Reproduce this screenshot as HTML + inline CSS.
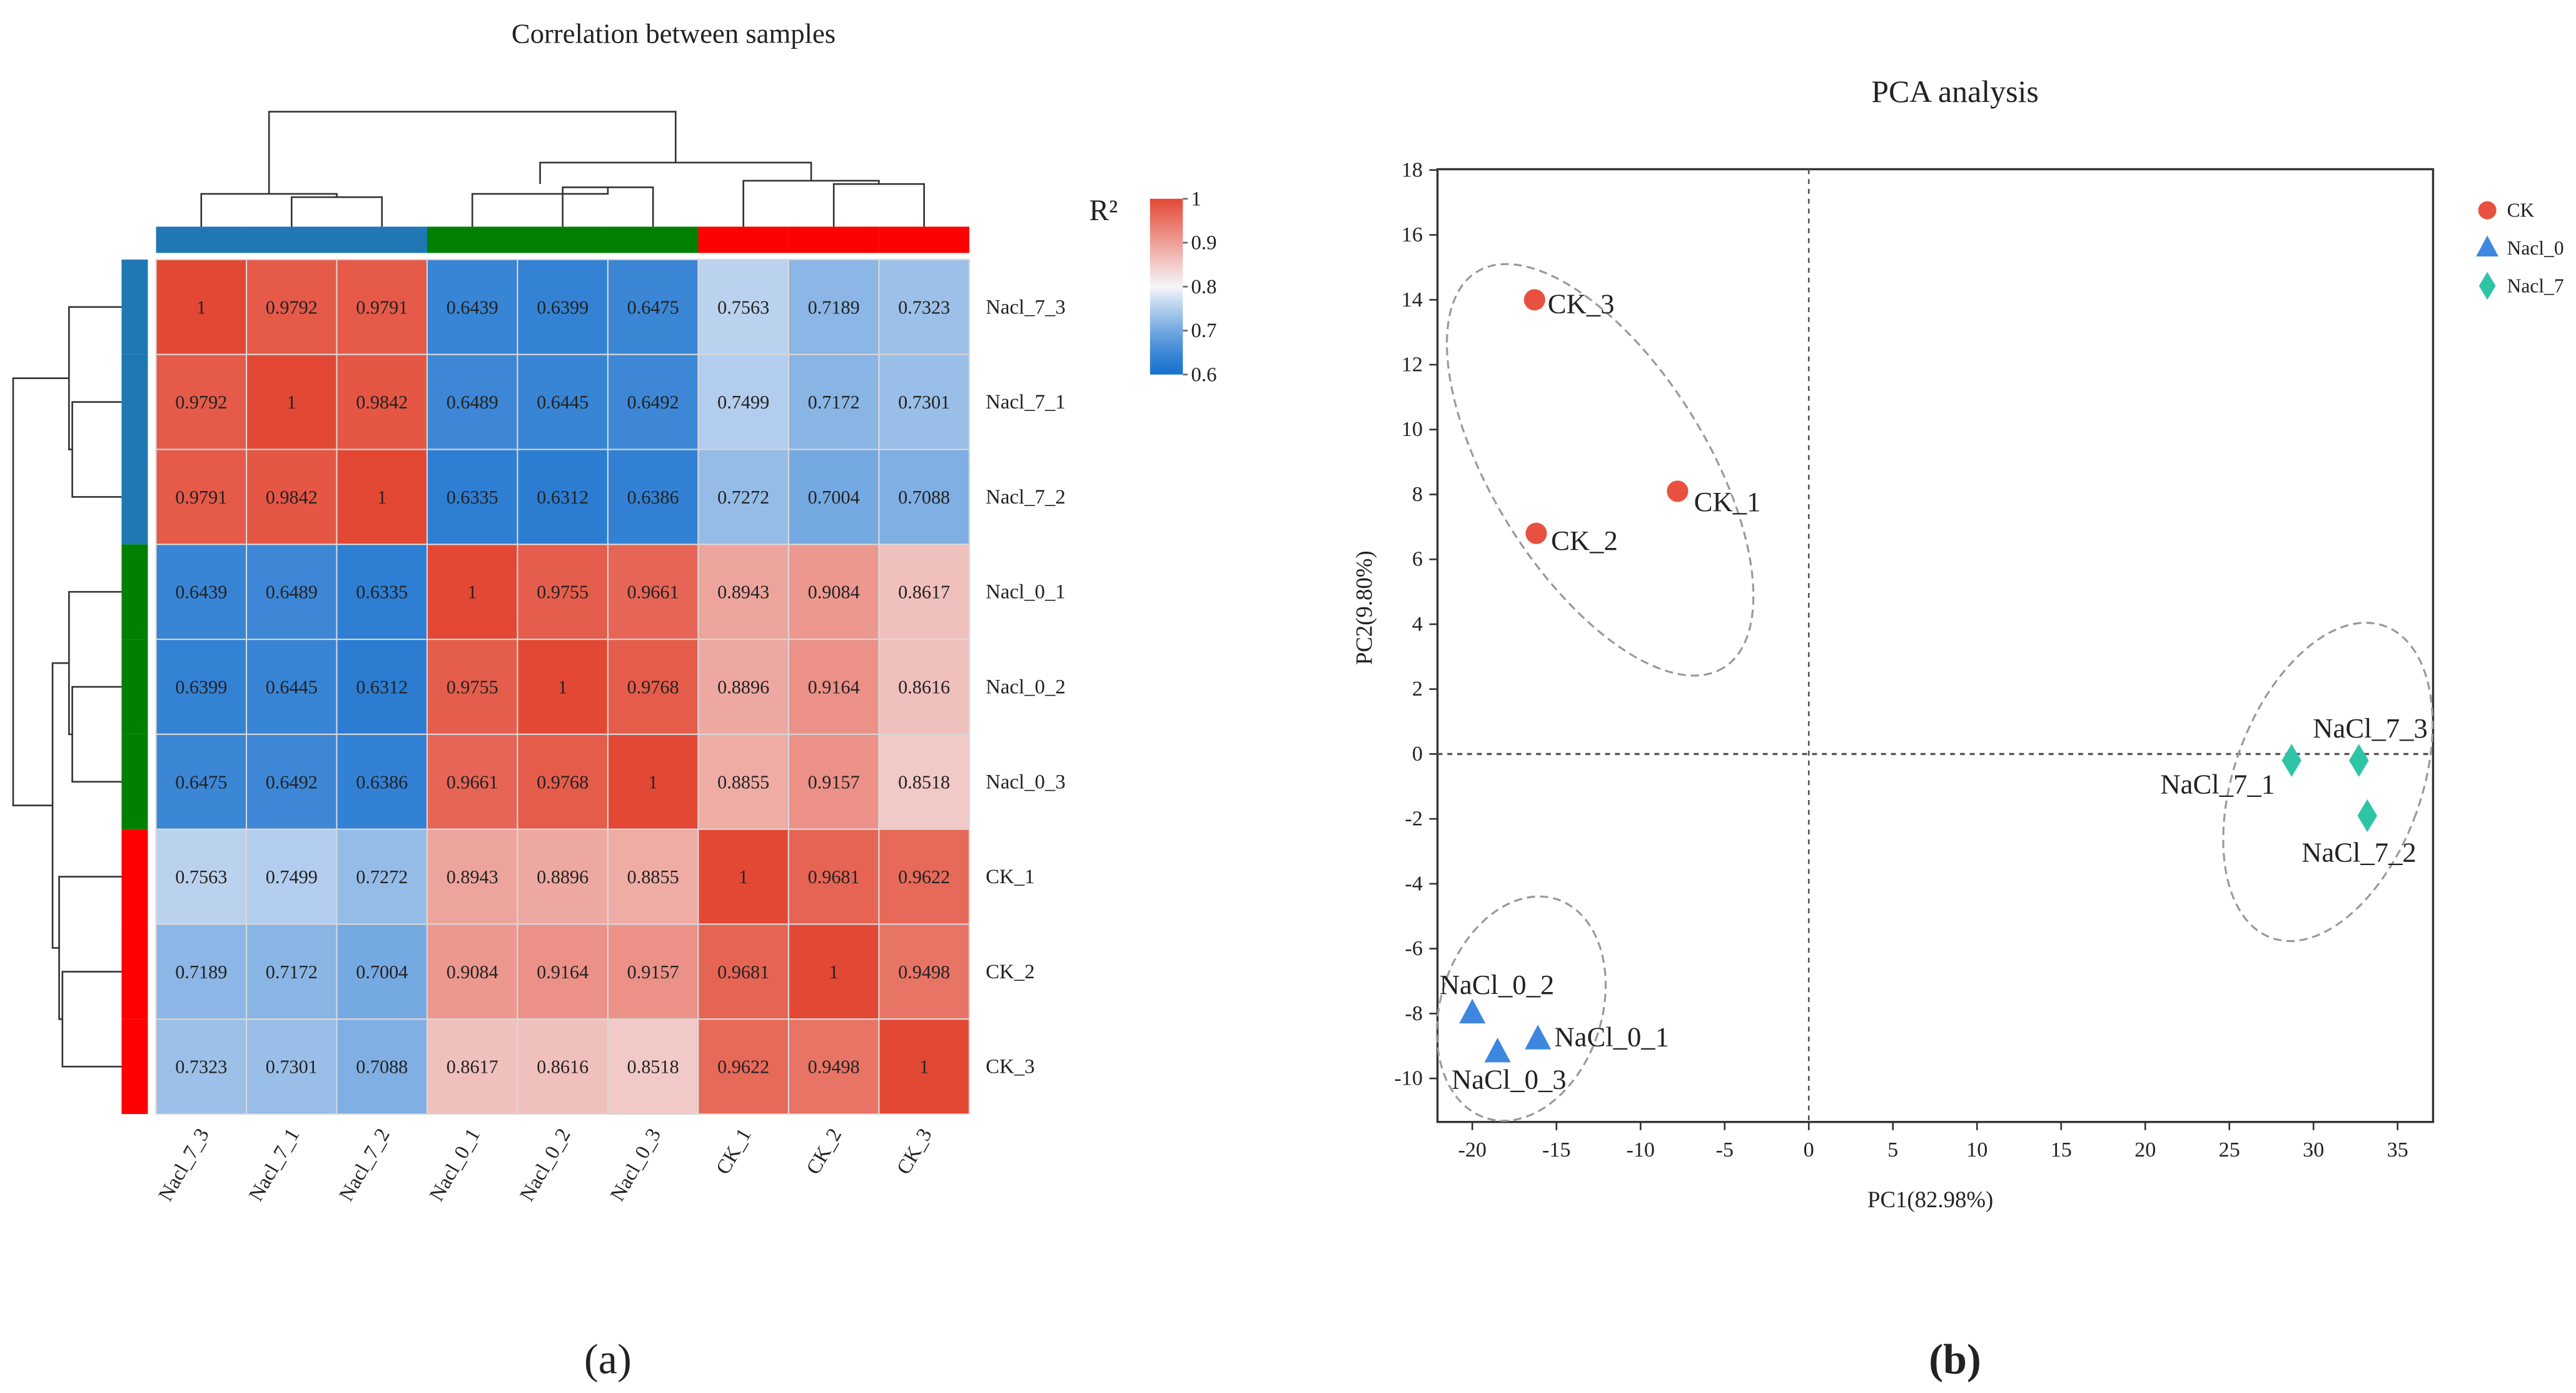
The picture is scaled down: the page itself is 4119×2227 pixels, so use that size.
<!DOCTYPE html>
<html><head><meta charset="utf-8"><style>
html,body{margin:0;padding:0;background:#fff}
svg{display:block}
text{font-family:"Liberation Serif",serif;fill:#222}
</style></head><body>
<svg id="fig" width="4119" height="2227" viewBox="0 0 1568 848" preserveAspectRatio="none" xmlns="http://www.w3.org/2000/svg">
<rect width="1568" height="848" fill="#fff"/>
<g id="heat"></g>
<g id="pca"></g>
</svg>
<script>
const samples=["Nacl_7_3","Nacl_7_1","Nacl_7_2","Nacl_0_1","Nacl_0_2","Nacl_0_3","CK_1","CK_2","CK_3"];
const groupColors=["#1f77b4","#1f77b4","#1f77b4","#008000","#008000","#008000","#ff0000","#ff0000","#ff0000"];
const corr=[
[1,0.9792,0.9791,0.6439,0.6399,0.6475,0.7563,0.7189,0.7323],
[0.9792,1,0.9842,0.6489,0.6445,0.6492,0.7499,0.7172,0.7301],
[0.9791,0.9842,1,0.6335,0.6312,0.6386,0.7272,0.7004,0.7088],
[0.6439,0.6489,0.6335,1,0.9755,0.9661,0.8943,0.9084,0.8617],
[0.6399,0.6445,0.6312,0.9755,1,0.9768,0.8896,0.9164,0.8616],
[0.6475,0.6492,0.6386,0.9661,0.9768,1,0.8855,0.9157,0.8518],
[0.7563,0.7499,0.7272,0.8943,0.8896,0.8855,1,0.9681,0.9622],
[0.7189,0.7172,0.7004,0.9084,0.9164,0.9157,0.9681,1,0.9498],
[0.7323,0.7301,0.7088,0.8617,0.8616,0.8518,0.9622,0.9498,1]];
const cbTicks=[1,0.9,0.8,0.7,0.6];
const pcaLabels=["CK_3","CK_1","CK_2","NaCl_0_2","NaCl_0_3","NaCl_0_1","NaCl_7_1","NaCl_7_3","NaCl_7_2"];
const pcaGroup=[0,0,0,1,1,1,2,2,2];
const pc1=[-16.3,-7.8,-16.2,-20,-18.5,-16.1,28.7,32.7,33.2];
const pc2=[14,8.1,6.8,-8,-9.2,-8.8,-0.2,-0.2,-1.9];
const xTicks=[-20,-15,-10,-5,0,5,10,15,20,25,30,35];
const yTicks=[18,16,14,12,10,8,6,4,2,0,-2,-4,-6,-8,-10];
const legendNames=["CK","Nacl_0","Nacl_7"];
const NS="http://www.w3.org/2000/svg";
function mk(p,tag,at,txt){const e=document.createElementNS(NS,tag);for(const k in at)e.setAttribute(k,at[k]);if(txt!==undefined)e.textContent=txt;p.appendChild(e);return e;}
function lerp(a,b,t){return a.map((v,i)=>Math.round(v+(b[i]-v)*t));}
function col(v){const B=[22,112,206],W=[246,246,250],R=[227,72,52];let c;if(v<0.8){const t=Math.max(0,(v-0.6)/0.2);c=lerp(B,W,Math.pow(t,1.25));}else c=lerp(W,R,Math.min(1,(v-0.8)/0.2));return `rgb(${c})`;}
const H=document.getElementById('heat');
const X0=95,Y0=158,CW=55,CH=57.8,N=samples.length;
const cx=i=>X0+CW*(i+0.5), cy=i=>Y0+CH*(i+0.5);
let t=mk(H,'text',{x:410,y:26,'text-anchor':'middle','font-size':17},'Correlation between samples');

for(let r=0;r<N;r++)for(let c=0;c<N;c++){
 const e=mk(H,'rect',{x:X0+c*CW,y:Y0+r*CH,width:CW,height:CH,fill:col(corr[r][c]),stroke:'#d8d8d8','stroke-width':0.8});
 
 const tx=mk(H,'text',{x:cx(c),y:cy(r)+4,'text-anchor':'middle','font-size':11.5},String(corr[r][c]));
 
}
for(let i=0;i<N;i++){
 const a=mk(H,'rect',{x:X0+i*CW,y:138,width:CW,height:16,fill:groupColors[i]});
 
 const b=mk(H,'rect',{x:74,y:Y0+i*CH,width:16,height:CH,fill:groupColors[i]});
 
 const rl=mk(H,'text',{x:600,y:cy(i)+4,'font-size':12.5},samples[i]);
 
 const cl=mk(H,'text',{x:cx(i)+5,y:690,'text-anchor':'end','font-size':12.5,transform:`rotate(-60 ${cx(i)+5} 690)`},samples[i]);
 
}
const dT=[[cx(0),cx(1),cx(2),118,120,118],[cx(3),cx(4),cx(5),112,114,118],[cx(6),cx(7),cx(8),110,112,110]];
let dp="";
dT.forEach(([a,b,c,h1,h2,h0])=>{const m=(b+c)/2;dp+=`M${b},138V${h2}H${c}V138M${a},138V${h0}H${m}V${h2}`;});
const gm=[(cx(0)+(cx(1)+cx(2))/2)/2,(cx(3)+(cx(4)+cx(5))/2)/2,(cx(6)+(cx(7)+cx(8))/2)/2];
dp+=`M${gm[1]},112V99H${gm[2]}V110M${gm[0]},118V68H${(gm[1]+gm[2])/2}V99`;
const dL=[[cy(0),cy(1),cy(2),42,44,42],[cy(3),cy(4),cy(5),42,44,42],[cy(6),cy(7),cy(8),36,38,36]];
dL.forEach(([a,b,c,h1,h2,h0])=>{const m=(b+c)/2;dp+=`M74,${b}H${h2}V${c}H74M74,${a}H${h0}V${m}H${h2}`;});
const lm=[(cy(0)+(cy(1)+cy(2))/2)/2,(cy(3)+(cy(4)+cy(5))/2)/2,(cy(6)+(cy(7)+cy(8))/2)/2];
dp+=`M42,${lm[1]}H32V${lm[2]}H36M42,${lm[0]}H8V${(lm[1]+lm[2])/2}H32`;
const dd=mk(H,'path',{d:dp,fill:'none',stroke:'#333','stroke-width':1});

const defs=mk(H,'defs',{});const lg=mk(defs,'linearGradient',{id:'cbg',x1:0,y1:1,x2:0,y2:0});
[0.6,0.65,0.7,0.75,0.8,0.85,0.9,0.95,1].forEach(v=>mk(lg,'stop',{offset:(v-0.6)/0.4,'stop-color':col(v)}));
const cb=mk(H,'rect',{x:700,y:121,width:20,height:107,fill:'url(#cbg)'});

cbTicks.forEach(v=>{const y=121+(1-v)/0.4*107;mk(H,'line',{x1:720,x2:723,y1:y,y2:y,stroke:'#666'});
 const e=mk(H,'text',{x:725,y:y+4,'font-size':12.5,fill:'#555'},String(v));});
t=mk(H,'text',{x:663,y:134,'font-size':18,fill:'#888'},'R²');
t=mk(H,'text',{x:370,y:836,'text-anchor':'middle','font-size':26,fill:'#000'},'(a)');
const P=document.getElementById('pca');
const sx=v=>1101+v*51.2/5, sy=v=>459-v*39.5/2;
const bx=mk(P,'rect',{x:875,y:103,width:606,height:580,fill:'none',stroke:'#333','stroke-width':1.3});

xTicks.forEach(v=>{mk(P,'line',{x1:sx(v),x2:sx(v),y1:683,y2:688,stroke:'#333'});
 const e=mk(P,'text',{x:sx(v),y:704,'text-anchor':'middle','font-size':13,fill:'#444'},String(v));});
yTicks.forEach(v=>{mk(P,'line',{x1:870,x2:875,y1:sy(v),y2:sy(v),stroke:'#333'});
 const e=mk(P,'text',{x:866,y:sy(v)+4,'text-anchor':'end','font-size':13,fill:'#444'},String(v));});
mk(P,'line',{x1:sx(0),x2:sx(0),y1:103,y2:683,stroke:'#555','stroke-dasharray':'3,3'});
mk(P,'line',{x1:875,x2:1481,y1:sy(0),y2:sy(0),stroke:'#555','stroke-dasharray':'3,3','stroke-width':1.3});
[[974,286,142,65,58],[926,614,49,70,18],[1417,476,57,101,20]].forEach(([x,y,rx,ry,a])=>{
 const e=mk(P,'ellipse',{cx:x,cy:y,rx:rx,ry:ry,transform:`rotate(${a} ${x} ${y})`,fill:'none',stroke:'#999','stroke-dasharray':'5,3','stroke-width':1.2});
 });
const gcol=["#e8513f","#3d87e0","#2ec4a6"];
function marker(g,x,y,s){if(g===0)return mk(P,'circle',{cx:x,cy:y,r:6.5*s,fill:gcol[0]});
 if(g===1)return mk(P,'path',{d:`M${x},${y-9*s}L${x+8*s},${y+6*s}H${x-8*s}Z`,fill:gcol[1]});
 return mk(P,'path',{d:`M${x},${y-10*s}L${x+6*s},${y}L${x},${y+10*s}L${x-6*s},${y}Z`,fill:gcol[2]});}
const lblOff=[[8,8,'start'],[10,12,'start'],[9,10,'start'],[-20,-12,'start'],[-28,22,'start'],[10,4,'start'],[-10,20,'end'],[-28,-14,'start'],[-40,28,'start']];
for(let i=0;i<pc1.length;i++){const x=sx(pc1[i]),y=sy(pc2[i]);
 const m=marker(pcaGroup[i],x,y,1);
 const o=lblOff[i];const e=mk(P,'text',{x:x+o[0],y:y+o[1],'text-anchor':o[2],'font-size':17,fill:'#111'},pcaLabels[i]);
 }
legendNames.forEach((n,i)=>{const y=128+23*i;const m=marker(i,1514,y,0.85);
 const e=mk(P,'text',{x:1526,y:y+4,'font-size':12,fill:'#444'},n);});
t=mk(P,'text',{x:1190,y:62,'text-anchor':'middle','font-size':19},'PCA analysis');
t=mk(P,'text',{x:1175,y:735,'text-anchor':'middle','font-size':14,fill:'#444'},'PC1(82.98%)');
t=mk(P,'text',{x:835,y:370,'text-anchor':'middle','font-size':14,fill:'#444',transform:'rotate(-90 835 370)'},'PC2(9.80%)');
t=mk(P,'text',{x:1190,y:836,'text-anchor':'middle','font-size':26,'font-weight':'bold',fill:'#000'},'(b)');
</script>
</body></html>
